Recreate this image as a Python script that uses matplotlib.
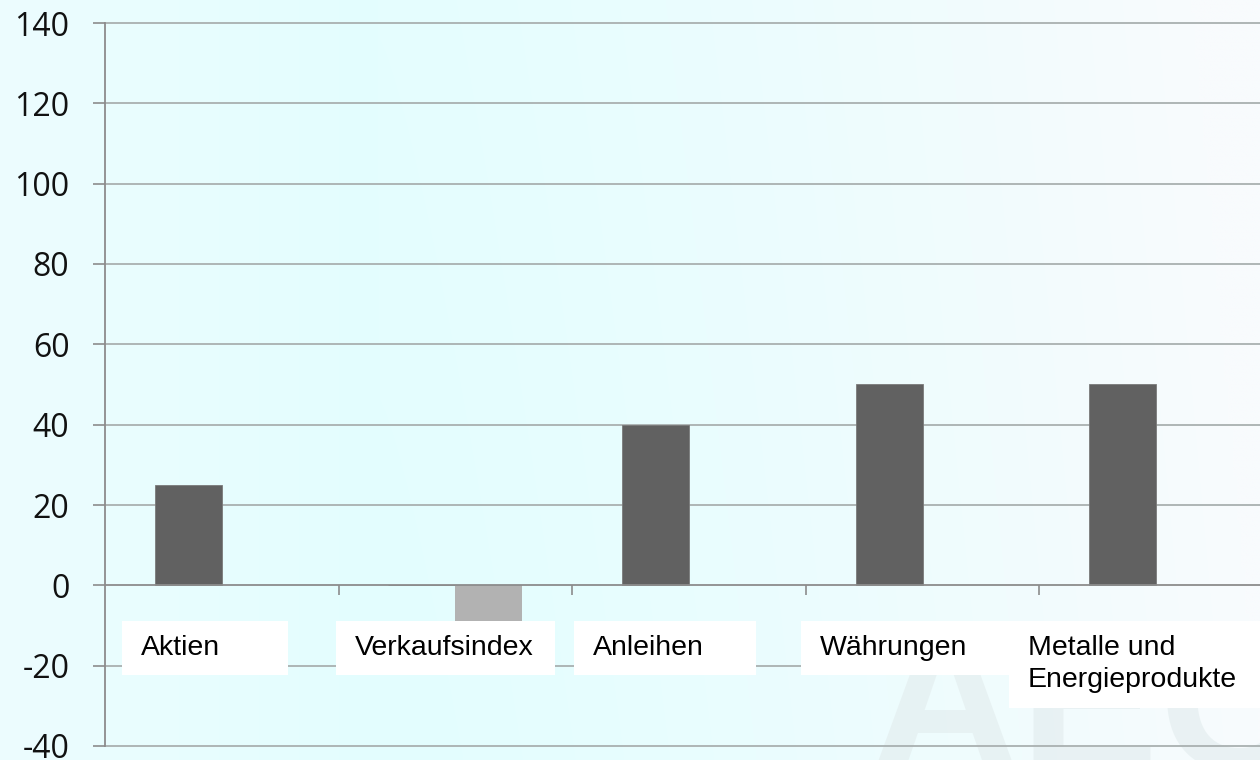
import numpy as np
import matplotlib.pyplot as plt
from matplotlib.colors import to_rgb
from matplotlib.patches import Rectangle

# Kategorien und Werte
categories = ["Aktien", "Verkaufsindex", "Anleihen", "Währungen", "Metalle und\nEnergieprodukte"]
dark_values = [25, 0, 40, 50, 50]
light_values = [0, -9, 0, 0, 0]
y_ticks = [-40, -20, 0, 20, 40, 60, 80, 100, 120, 140]

# Label-Boxen (links/rechts relativ zum Kategoriebeginn)
box_left = [0.073, -0.01, 0.009, -0.02, -0.13]
box_right = [0.784, 0.928, 0.788, 0.87, 1.2]

fig = plt.figure(figsize=(12.6, 7.6), dpi=100)

# Hintergrund-Verlauf
bg = fig.add_axes([0, 0, 1, 1], zorder=-10)
bg.axis("off")
c1 = np.array(to_rgb("#e3feff"))
c2 = np.array(to_rgb("#f8fbfd"))
xx, yy = np.meshgrid(np.linspace(0, 1, 300), np.linspace(0, 1, 200))
d = np.where(xx < 0.3, (0.3 - xx) / 0.3 * 0.45, ((xx - 0.3) / 0.7) ** 1.3)
t = np.clip(d + 0.1 * yy * (xx > 0.3), 0, 1)
img = c1[None, None, :] * (1 - t[..., None]) + c2[None, None, :] * t[..., None]
bg.imshow(img, extent=[0, 1, 0, 1], aspect="auto", origin="lower", interpolation="bilinear")
bg.set_xlim(0, 1)
bg.set_ylim(0, 1)
# blasses Wasserzeichen
bg.text(0.69, -0.07, "AEC", fontsize=150, fontweight="bold", color="#e4eeef",
        family="Liberation Sans", ha="left", va="bottom", alpha=0.7)

ax = fig.add_axes([105 / 1260, 14 / 760, 1168 / 1260, 723 / 760])
ax.set_facecolor("none")

x = np.arange(len(categories))
w = 0.287
ax.bar(x - w / 2, dark_values, width=w, color="#616161", edgecolor="#7a7a7a", linewidth=0.6, zorder=3)
ax.bar(x + w / 2, light_values, width=w, color="#b2b2b2", edgecolor="none", zorder=3)

ax.set_xlim(-0.5, len(categories) - 0.5)
ax.set_ylim(-40, 140)
ax.set_yticks(y_ticks)
ax.set_yticklabels([str(v) for v in y_ticks], family="Open Sans", fontsize=23, color="#111111")
ax.tick_params(axis="y", length=8.6, width=1.2, color="#8c8c8c", pad=17)

for v in y_ticks:
    if v != 0:
        ax.axhline(v, color="#a9b0b0", linewidth=1.3, zorder=1, clip_on=False)

for s in ["top", "right"]:
    ax.spines[s].set_visible(False)
ax.spines["left"].set_color("#8c8c8c")
ax.spines["left"].set_linewidth(1.3)
ax.spines["bottom"].set_position(("data", 0))
ax.spines["bottom"].set_color("#8c8c8c")
ax.spines["bottom"].set_linewidth(1.3)
ax.spines["bottom"].set_zorder(4)

ax.set_xticks(x[:-1] + 0.5)
ax.set_xticklabels([])
ax.tick_params(axis="x", length=7.2, width=1.2, color="#8c8c8c", direction="out")

for i, lab in enumerate(categories):
    x0 = i - 0.5 + box_left[i]
    x1 = i - 0.5 + box_right[i]
    bottom = -30.6 if "\n" in lab else -22.4
    ax.add_patch(Rectangle((x0, bottom), x1 - x0, -9 - bottom, facecolor="white",
                           edgecolor="none", zorder=5, clip_on=False))
    ax.text(x0 + 0.08, -12.3, lab, family="Liberation Sans", fontsize=20.5,
            ha="left", va="top", linespacing=1.32, zorder=6, color="#000000")

fig.savefig("out.png", dpi=100)
